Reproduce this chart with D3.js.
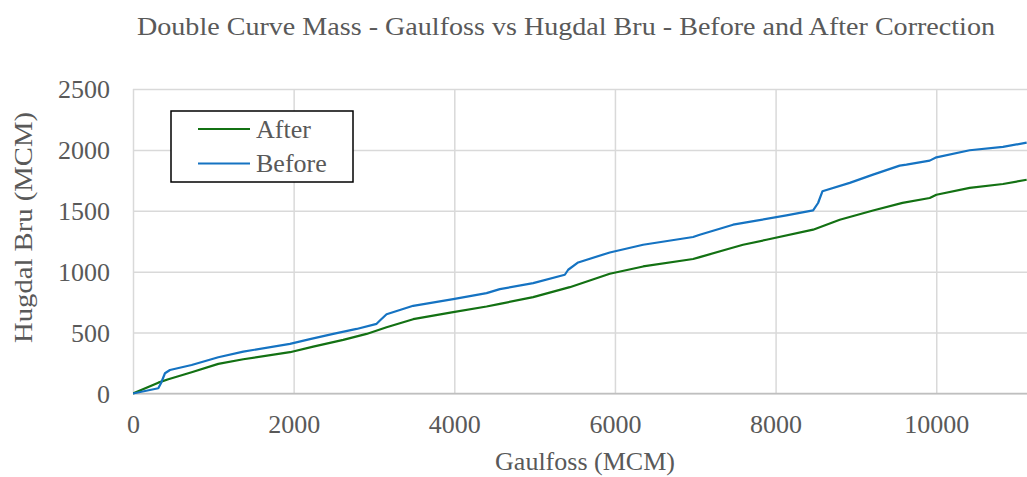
<!DOCTYPE html>
<html>
<head>
<meta charset="utf-8">
<script src="https://cdn.jsdelivr.net/npm/d3@7"></script>
<style>
  html, body { margin: 0; padding: 0; background: #ffffff; }
  svg { display: block; }
  text { font-family: "Liberation Serif", "Times New Roman", serif; fill: #595959; }
</style>
</head>
<body>
<svg id="chart" width="1027" height="477"></svg>
<script>
// ---- data ----
const titleText = "Double Curve Mass - Gaulfoss vs Hugdal Bru - Before and After Correction";
const xTitle = "Gaulfoss (MCM)";
const yTitle = "Hugdal Bru  (MCM)";
const seriesNames = ["After", "Before"];
const xTicks = [0, 2000, 4000, 6000, 8000, 10000];
const yTicks = [0, 500, 1000, 1500, 2000, 2500];

const afterX = [0, 315, 440, 730, 1062, 1373, 1954, 2244, 2617, 2908, 3157, 3488, 3986, 4402, 4567, 4982, 5438, 5936, 6351, 6973, 7056, 7430, 7595, 7886, 8467, 8799, 9213, 9580, 9919, 10002, 10416, 10831, 11126];
const afterY = [0, 89, 117, 174, 243, 281, 339, 385, 440, 489, 544, 610, 668, 714, 736, 791, 873, 983, 1043, 1104, 1120, 1190, 1221, 1262, 1345, 1427, 1503, 1565, 1605, 1632, 1688, 1720, 1755];

const beforeX = [0, 315, 348, 398, 460, 730, 1062, 1373, 1954, 2203, 2493, 2784, 3033, 3074, 3157, 3488, 3986, 4402, 4567, 4982, 5376, 5418, 5542, 5936, 6351, 6973, 7056, 7471, 7762, 8135, 8467, 8529, 8583, 8923, 9213, 9545, 9629, 9919, 10002, 10416, 10831, 11126];
const beforeY = [0, 43, 84, 166, 193, 234, 298, 344, 407, 446, 489, 530, 572, 599, 651, 720, 775, 824, 857, 906, 975, 1016, 1076, 1158, 1221, 1285, 1303, 1386, 1419, 1462, 1503, 1564, 1660, 1729, 1797, 1871, 1879, 1912, 1939, 1997, 2025, 2060];

const colors = ["#137113", "#1573c2"];

// ---- layout ----
const svg = d3.select("#chart");
const pL = 133, pR = 1027, pT = 89, pB = 393.5;
const x = d3.scaleLinear().domain([0, 11130]).range([pL, pR]);
const y = d3.scaleLinear().domain([0, 2500]).range([pB, pT]);

// title
svg.append("text")
  .attr("x", 566).attr("y", 35)
  .attr("text-anchor", "middle")
  .attr("font-size", 26)
  .attr("textLength", 858).attr("lengthAdjust", "spacingAndGlyphs")
  .text(titleText);

// gridlines (vertical)
const gx = svg.append("g").attr("transform", `translate(0,${pB})`)
  .call(d3.axisBottom(x).tickValues(xTicks).tickSize(-(pB - pT)).tickFormat(""));
gx.select(".domain").remove();
gx.selectAll("line").attr("stroke", "#d9d9d9").attr("stroke-width", 1.5);

// gridlines (horizontal)
const gy = svg.append("g").attr("transform", `translate(${pL},0)`)
  .call(d3.axisLeft(y).tickValues(yTicks).tickSize(-(pR - pL)).tickFormat(""));
gy.select(".domain").remove();
gy.selectAll("line").attr("stroke", "#d9d9d9").attr("stroke-width", 1.5);

// axis line
svg.append("line").attr("x1", pL).attr("x2", pR).attr("y1", pB).attr("y2", pB)
  .attr("stroke", "#bfbfbf").attr("stroke-width", 1.5);

// tick labels
const xl = svg.append("g").attr("transform", `translate(0,${pB})`)
  .call(d3.axisBottom(x).tickValues(xTicks).tickSize(0).tickPadding(0).tickFormat(d3.format("d")));
xl.select(".domain").remove();
xl.selectAll("text").attr("y", 39).attr("dy", 0).attr("font-size", 26)
  .style("font-family", "Liberation Serif").attr("fill", "#595959");

const yl = svg.append("g").attr("transform", `translate(${pL},0)`)
  .call(d3.axisLeft(y).tickValues(yTicks).tickSize(0).tickPadding(0).tickFormat(d3.format("d")));
yl.select(".domain").remove();
yl.selectAll("text").attr("x", -23).attr("dy", "0.34em").attr("font-size", 26)
  .style("font-family", "Liberation Serif").attr("fill", "#595959");

// axis titles
svg.append("text").attr("x", 585).attr("y", 470).attr("text-anchor", "middle")
  .attr("font-size", 26).text(xTitle);
svg.append("text").attr("transform", `translate(32,${(111.7 + 343.3) / 2}) rotate(-90)`)
  .attr("text-anchor", "middle").attr("font-size", 26)
  .attr("textLength", 231).attr("lengthAdjust", "spacingAndGlyphs")
  .text(yTitle);

// clip
svg.append("clipPath").attr("id", "plotclip").append("rect")
  .attr("x", pL).attr("y", pT - 5).attr("width", pR - pL + 5).attr("height", pB - pT + 10);

const line = d3.line().x(d => x(d[0])).y(d => y(d[1]));
const afterData = afterX.map((v, i) => [v, afterY[i]]);
const beforeData = beforeX.map((v, i) => [v, beforeY[i]]);

const plot = svg.append("g").attr("clip-path", "url(#plotclip)");
plot.append("path").datum(afterData).attr("d", line)
  .attr("fill", "none").attr("stroke", colors[0]).attr("stroke-width", 2.2).attr("stroke-linejoin", "round");
plot.append("path").datum(beforeData).attr("d", line)
  .attr("fill", "none").attr("stroke", colors[1]).attr("stroke-width", 2.2).attr("stroke-linejoin", "round");

// legend
const lg = svg.append("g");
lg.append("rect").attr("x", 171).attr("y", 111).attr("width", 182).attr("height", 71)
  .attr("fill", "#ffffff").attr("stroke", "#000000").attr("stroke-width", 1.5);
const legY = [129, 163.5];
seriesNames.forEach((name, i) => {
  lg.append("line").attr("x1", 198).attr("x2", 250).attr("y1", legY[i]).attr("y2", legY[i])
    .attr("stroke", colors[i]).attr("stroke-width", 2.2);
  lg.append("text").attr("x", 256).attr("y", legY[i] + 8.5).attr("font-size", 26).text(name);
});
</script>
</body>
</html>
